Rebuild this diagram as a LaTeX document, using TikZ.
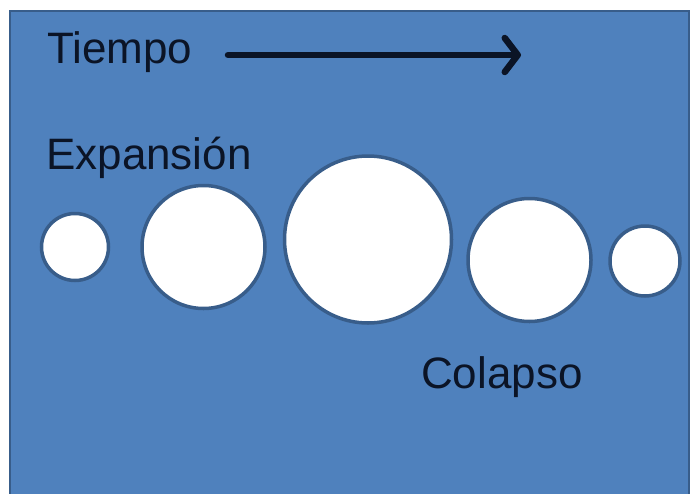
\documentclass[tikz,border=0pt]{standalone}
\usepackage{fontspec}
\setmainfont{Liberation Sans}
\usetikzlibrary{arrows.meta}
\definecolor{panelblue}{HTML}{4F81BD}
\definecolor{edgeblue}{HTML}{385D8A}
\definecolor{inkdark}{HTML}{0B1426}
\begin{document}
\begin{tikzpicture}[x=1pt,y=-1pt,
  label text/.style={anchor=base west,inner sep=0pt,text=inkdark,
    font=\fontsize{44}{52}\selectfont},
  bubble/.style={circle,draw=edgeblue,line width=3.5pt,fill=white,inner sep=0pt}]
  \useasboundingbox (0,0) rectangle (693,493);
  % background panel
  \fill[white] (0,0) rectangle (693,493);
  \draw[edgeblue,line width=2.5pt,fill=panelblue] (10,11) rectangle (689,510);

  % labels
  \node[label text] (tiempo) at (47,63) {Tiempo};
  \node[label text] (expansion) at (46,169) {Expansión};
  \node[label text] (colapso) at (421,388) {Colapso};

  % time arrow
  \coordinate (tstart) at (228,55);
  \coordinate (tend) at (521,55);
  \draw[inkdark,line width=6.5pt,line cap=round,
    -{Straight Barb[length=13pt,width=34pt,round]}] (tstart) -- (tend);

  % bubbles growing then shrinking
  \node[bubble,minimum size=67pt] (b1) at (75,247) {};
  \node[bubble,minimum size=123pt] (b2) at (203.5,247) {};
  \node[bubble,minimum size=167pt] (b3) at (368,239.5) {};
  \node[bubble,minimum size=123pt] (b4) at (529.5,260) {};
  \node[bubble,minimum size=70pt] (b5) at (645,261) {};
\end{tikzpicture}
\end{document}
